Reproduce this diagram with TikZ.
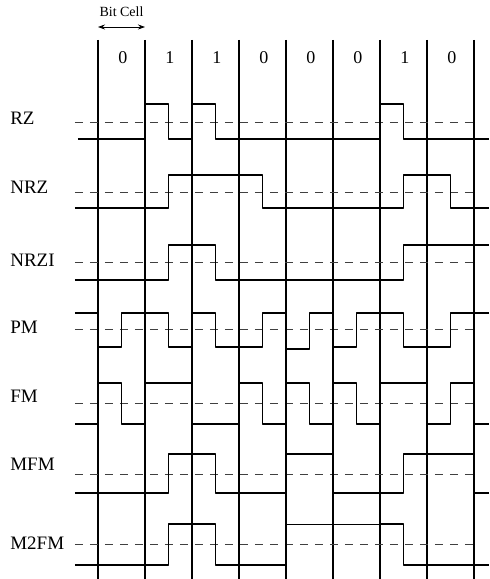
\documentclass[tikz,border=0pt]{standalone}
\usepackage{fontspec}
\setmainfont{Liberation Serif}
\usetikzlibrary{arrows.meta}
\begin{document}
\begin{tikzpicture}[x=47bp,y=-1bp,font=\fontsize{18bp}{20bp}\selectfont,line join = round, line cap = butt, >={Stealth[length=7bp,width=5bp]},
		wave/.style={line width=1.3bp},
		cellline/.style={line width=1.2bp},
		refline/.style={line width=0.9bp,black!75,dash pattern=on 8bp off 7bp},
		lbl/.style={anchor=base west,inner sep=0pt,font=\fontsize{19bp}{21bp}\selectfont}]
				\useasboundingbox (-2.0851,0) rectangle (8.3191,579);
				% bit cells and reference levels
				\foreach \i in {0,...,8} \draw[cellline] (\i,40) -- (\i,579);
				\foreach \y in {122,192,262,329,403,474,544} \draw[refline] (-0.49,\y) -- (8.11,\y);
				\foreach \b [count=\i from 0] in {0,1,1,0,0,0,1,0} \node[anchor=base,inner sep=0pt] (b\i) at (\i+0.53,64) {\b};
				\coordinate (cellL) at (0,27);
				\coordinate (cellR) at (1,27);
				\draw[<->,line width=0.8bp] (cellL) -- (cellR);
				\node[anchor=base,inner sep=0pt,font=\fontsize{14bp}{16bp}\selectfont] (bitcell) at (0.5,17) {Bit Cell};
				% code names
				\node[lbl] (rz) at (-1.87,125) {RZ};
				\node[lbl] (nrz) at (-1.87,193) {NRZ};
				\node[lbl] (nrzi) at (-1.87,266) {NRZI};
				\node[lbl] (pm) at (-1.87,333) {PM};
				\node[lbl] (fm) at (-1.87,402) {FM};
				\node[lbl] (mfm) at (-1.87,470) {MFM};
				\node[lbl] (mtfm) at (-1.87,549) {M2FM};
				% waveforms
				\draw[wave] (-0.43,139) -| (1,104) -| (1.5,139) -| (2,104) -| (2.5,139) -| (6,104) -| (6.5,139) -- (8.32,139);
				\draw[wave] (-0.49,208) -| (1.5,175) -| (3.5,208) -| (6.5,175) -| (7.5,208) -- (8.32,208);
				\draw[wave] (-0.49,280) -| (1.5,245) -| (2.5,280) -| (6.5,245) -- (8.32,245);
				\draw[wave] (-0.49,313) -| (0,347) -| (0.5,313) -| (1.5,347) -| (2,313) -| (2.5,347) -| (3.5,313) -| (4,349) -| (4.5,313) -| (5,347) -| (5.5,313) -| (6.5,347) -| (7.5,313) -- (8.32,313);
				\draw[wave] (-0.49,424) -| (0,383) -| (0.5,424) -| (1,383) -| (2,424) -| (3,383) -| (3.5,424) -| (4,383) -| (4.5,424) -| (5,383) -| (5.5,424) -| (6,383) -| (7,424) -| (7.5,383) -| (8,424) -- (8.32,424);
				\draw[wave] (-0.49,493) -| (1.5,454) -| (2.5,493) -| (4,454) -| (5,493) -| (6.5,454) -| (8,493) -- (8.32,493);
				\draw[wave] (-0.49,565) -| (1.5,524) -| (2.5,565) -| (4,524);
				\draw[line width=0.8bp] (4,524) -- (6,524);
				\draw[wave] (6,524) -| (6.5,565) -- (8.32,565);
		\end{tikzpicture}
\end{document}
